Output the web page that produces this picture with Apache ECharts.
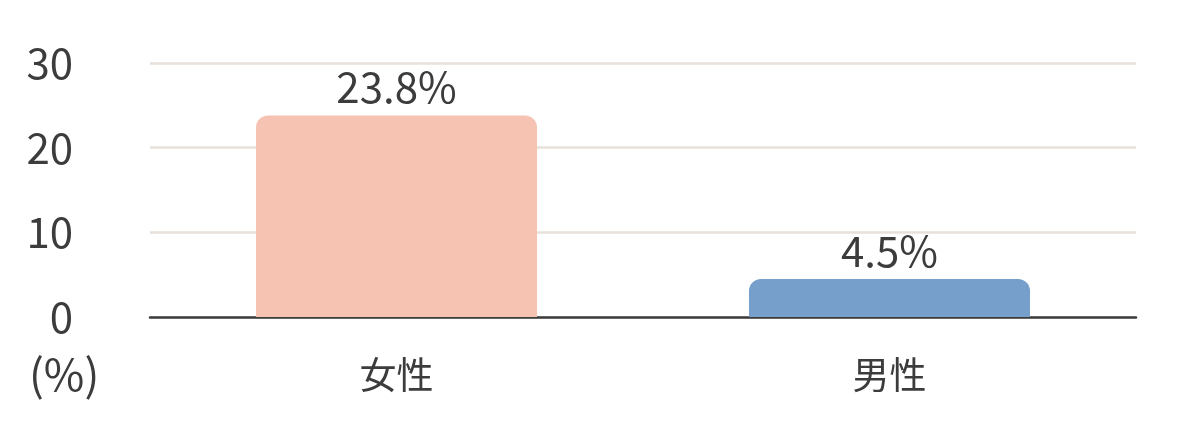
<!DOCTYPE html>
<html>
<head>
<meta charset="utf-8">
<script src="https://cdn.jsdelivr.net/npm/echarts@6/dist/echarts.min.js"></script>
<style>
  html, body { margin: 0; padding: 0; background: #fff; }
  #chart { width: 1182px; height: 434px; }
</style>
</head>
<body>
<div id="chart"></div>
<script>
// 数据
var categories = ['女性', '男性'];
var values = [23.8, 4.5];
var barColors = ['#F6C3B3', '#769FCB'];
var yTicks = [0, 10, 20, 30];

var textColor = '#3c3c3c';
var fontFamily = '"Noto Sans CJK JP", "Noto Sans", sans-serif';

var myChart = echarts.init(document.getElementById('chart'));
var option = {
  animation: false,
  textStyle: { fontFamily: fontFamily },
  grid: {
    left: 150,
    right: 46,
    top: 63,
    bottom: 117
  },
  graphic: [
    {
      type: 'text',
      left: 29,
      top: 352,
      style: {
        text: '(%)',
        fontSize: 44,
        fill: textColor,
        fontFamily: fontFamily
      }
    }
  ],
  xAxis: {
    type: 'category',
    data: categories,
    axisLine: { lineStyle: { color: '#3c3c3c', width: 2.5 } },
    axisTick: { show: false },
    axisLabel: {
      color: textColor,
      fontSize: 37,
      margin: 39
    }
  },
  yAxis: {
    type: 'value',
    min: yTicks[0],
    max: yTicks[yTicks.length - 1],
    interval: 10,
    axisLine: { show: false },
    axisTick: { show: false },
    axisLabel: {
      color: textColor,
      fontSize: 42,
      margin: 77,
      padding: [0, 0, 4, 0]
    },
    splitLine: { lineStyle: { color: '#E8E1DA', width: 2.5 } }
  },
  series: [
    {
      type: 'bar',
      data: values.map(function (v, i) {
        return { value: v, itemStyle: { color: barColors[i] } };
      }),
      barWidth: '57%',
      itemStyle: { borderRadius: [12, 12, 0, 0] },
      label: {
        show: true,
        position: 'top',
        distance: 7,
        color: textColor,
        fontSize: 42,
        formatter: function (p) { return p.value.toFixed(1) + '%'; }
      }
    }
  ]
};

if (option && typeof option == "object") {
  myChart.setOption(option, true);
}
</script>
</body>
</html>
